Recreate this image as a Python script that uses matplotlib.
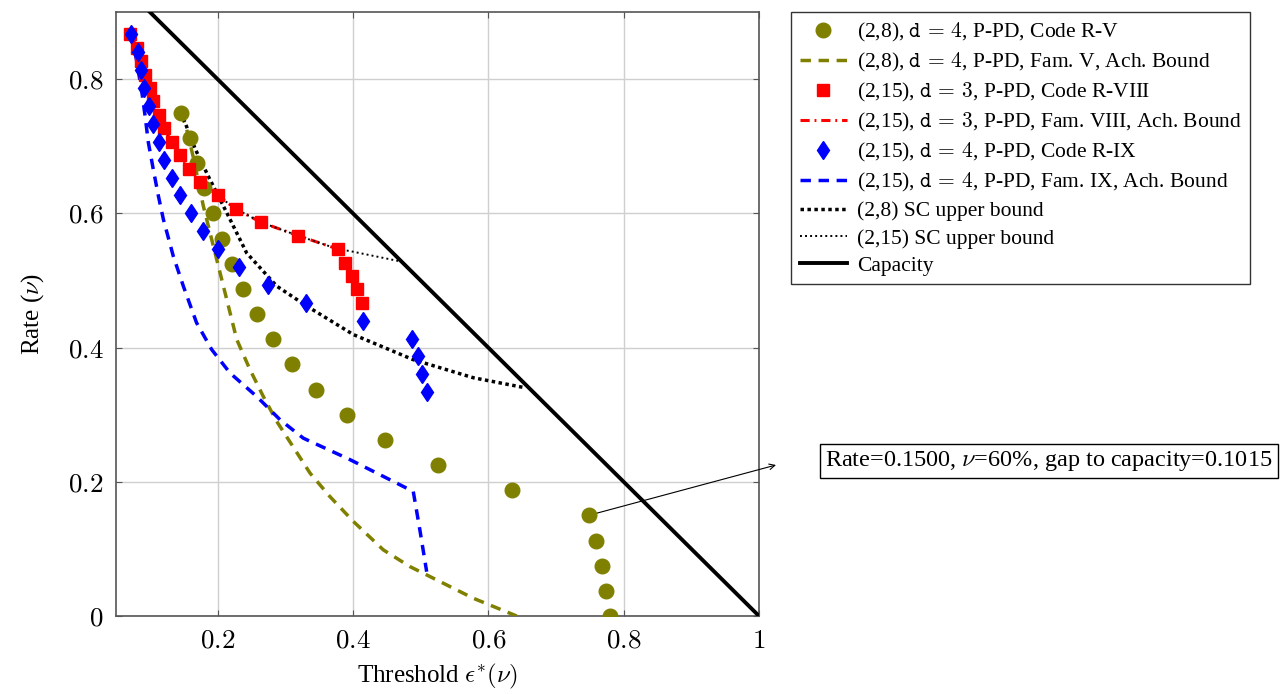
import matplotlib
matplotlib.use('Agg')
import matplotlib.pyplot as plt
from matplotlib.ticker import FixedLocator, FuncFormatter

plt.rcParams['font.family'] = ['Liberation Serif', 'DejaVu Serif']
plt.rcParams['mathtext.fontset'] = 'cm'

# Code R-V, (2,8), d=4
rv_thr = [0.146, 0.160, 0.170, 0.1805, 0.193, 0.206, 0.221, 0.238, 0.258, 0.2815, 0.3105,
          0.346, 0.391, 0.448, 0.525, 0.635, 0.7485, 0.7595, 0.768, 0.774, 0.780]
rv_rate = [0.75, 0.7125, 0.675, 0.6375, 0.6, 0.5625, 0.525, 0.4875, 0.45, 0.4125, 0.375,
           0.3375, 0.3, 0.2625, 0.225, 0.1875, 0.15, 0.1125, 0.075, 0.0375, 0.0]

# Fam. V achievable bound
famv_thr = [0.146, 0.1545, 0.165, 0.179, 0.1914, 0.2037, 0.216, 0.2284, 0.248, 0.2677, 0.2875,
            0.3366, 0.366, 0.4006, 0.445, 0.4843, 0.514, 0.578, 0.642]
famv_rate = [0.75, 0.725, 0.68, 0.611, 0.561, 0.5115, 0.462, 0.412, 0.367, 0.327, 0.29,
             0.213, 0.178, 0.141, 0.0985, 0.0736, 0.0587, 0.0264, 0.0]

# Code R-VIII, (2,15), d=3
rviii_thr = [0.071, 0.0815, 0.0875, 0.0934, 0.0999, 0.105, 0.1136, 0.121, 0.132, 0.1446, 0.158,
             0.174, 0.2, 0.227, 0.264, 0.319, 0.378, 0.389, 0.399, 0.406, 0.4135]
rviii_rate = [0.8667, 0.8467, 0.8267, 0.8067, 0.7867, 0.7667, 0.7467, 0.7267, 0.7067, 0.6867, 0.6667,
              0.6467, 0.6267, 0.6067, 0.5867, 0.5667, 0.5467, 0.5267, 0.5067, 0.4867, 0.4667]

# Fam. VIII achievable bound
famviii_thr = [0.071, 0.0815, 0.0875, 0.0934, 0.0999, 0.105, 0.1136, 0.121, 0.132, 0.1446, 0.158,
               0.174, 0.2, 0.227, 0.264, 0.319, 0.378]
famviii_rate = [0.8667, 0.8467, 0.8267, 0.8067, 0.7867, 0.7667, 0.7467, 0.7267, 0.7067, 0.6867, 0.6667,
                0.6467, 0.6267, 0.6067, 0.5867, 0.5667, 0.5467]

# Code R-IX, (2,15), d=4
rix_thr = [0.072, 0.0826, 0.0875, 0.092, 0.0988, 0.105, 0.1136, 0.1214, 0.133, 0.1446, 0.161,
           0.1786, 0.2007, 0.232, 0.275, 0.330, 0.4154, 0.4877, 0.496, 0.5025, 0.509]
rix_rate = [0.8667, 0.84, 0.8133, 0.7867, 0.76, 0.7333, 0.7067, 0.68, 0.6533, 0.6267, 0.6,
            0.5733, 0.5467, 0.52, 0.4933, 0.4667, 0.44, 0.4133, 0.3867, 0.36, 0.3333]

# Fam. IX achievable bound
famix_thr = [0.072, 0.080, 0.088, 0.093, 0.0978, 0.105, 0.1126, 0.12, 0.1347, 0.1495, 0.169,
             0.1914, 0.2185, 0.258, 0.2923, 0.3267, 0.3957, 0.4548, 0.4892, 0.499, 0.509]
famix_rate = [0.867, 0.83, 0.782, 0.745, 0.7055, 0.666, 0.626, 0.591, 0.536, 0.4915, 0.437,
              0.397, 0.362, 0.327, 0.2925, 0.265, 0.233, 0.203, 0.1855, 0.128, 0.066]

# SC upper bounds
sc8_thr = [0.146, 0.167, 0.186, 0.2136, 0.243, 0.2875, 0.332, 0.4006, 0.489, 0.578, 0.655]
sc8_rate = [0.751, 0.696, 0.656, 0.601, 0.541, 0.4915, 0.4617, 0.4194, 0.382, 0.355, 0.340]

sc15_thr = [0.071, 0.0815, 0.0875, 0.0934, 0.0999, 0.105, 0.1136, 0.121, 0.132, 0.1446, 0.158,
            0.174, 0.2, 0.227, 0.264, 0.319, 0.378, 0.396, 0.472]
sc15_rate = [0.8667, 0.8467, 0.8267, 0.8067, 0.7867, 0.7667, 0.7467, 0.7267, 0.7067, 0.6867, 0.6667,
             0.6467, 0.6267, 0.6067, 0.5867, 0.5667, 0.5467, 0.5437, 0.528]

# Capacity
cap_thr = [0.1, 1.0]
cap_rate = [0.9, 0.0]

OLIVE = '#808000'

fig = plt.figure(figsize=(12.84, 6.94), dpi=100)
ax = fig.add_axes([116/1284, 1 - 616/694, (759 - 116)/1284, (616 - 12)/694])

ax.plot(rv_thr, rv_rate, 'o', color=OLIVE, ms=10.5, ls='none',
        label=r'(2,8), $\mathtt{d}\,=\,4$, P-PD, Code R-V', zorder=4)
ax.plot(famv_thr, famv_rate, color=OLIVE, lw=2.5, dashes=(3, 2.2),
        label=r'(2,8), $\mathtt{d}\,=\,4$, P-PD, Fam. V, Ach. Bound', zorder=3)
ax.plot(rviii_thr, rviii_rate, 's', color='red', ms=8, ls='none',
        label=r'(2,15), $\mathtt{d}\,=\,3$, P-PD, Code R-VIII', zorder=4)
ax.plot(famviii_thr, famviii_rate, color='red', lw=2.2, dashes=(3, 1.6, 0.6, 1.6),
        label=r'(2,15), $\mathtt{d}\,=\,3$, P-PD, Fam. VIII, Ach. Bound', zorder=3)
ax.plot(rix_thr, rix_rate, 'd', color='blue', ms=9.5, ls='none',
        label=r'(2,15), $\mathtt{d}\,=\,4$, P-PD, Code R-IX', zorder=4)
ax.plot(famix_thr, famix_rate, color='blue', lw=2.5, dashes=(3, 2.2),
        label=r'(2,15), $\mathtt{d}\,=\,4$, P-PD, Fam. IX, Ach. Bound', zorder=3)
ax.plot(sc8_thr, sc8_rate, color='black', lw=2.5, dashes=(1, 1),
        label='(2,8) SC upper bound', zorder=3)
ax.plot(sc15_thr, sc15_rate, color='black', lw=1.4, dashes=(1, 1.6),
        label='(2,15) SC upper bound', zorder=3)
ax.plot(cap_thr, cap_rate, color='black', lw=2.8, label='Capacity', zorder=3)

ax.set_xlim(0.05, 1.0)
ax.set_ylim(0, 0.9)
ax.xaxis.set_major_locator(FixedLocator([0.2, 0.4, 0.6, 0.8, 1.0]))
ax.yaxis.set_major_locator(FixedLocator([0, 0.2, 0.4, 0.6, 0.8]))
fmt = FuncFormatter(lambda v, p: r'$%g$' % round(v, 2))
ax.xaxis.set_major_formatter(fmt)
ax.yaxis.set_major_formatter(fmt)
ax.tick_params(direction='in', length=4, width=0.8, color='#555555', labelsize=19.5,
               top=True, right=True, pad=9)
ax.grid(True, color='#cfcfcf', lw=1)
ax.set_axisbelow(True)
for s in ax.spines.values():
    s.set_color('#555555')
    s.set_linewidth(1.2)

ax.set_xlabel(r'Threshold $\epsilon^{*}(\nu)$', fontsize=18, labelpad=6)
ax.set_ylabel(r'Rate ($\nu$)', fontsize=18, labelpad=16)

leg = fig.legend(loc='upper left', bbox_to_anchor=(791/1284, 1 - 12/694), borderaxespad=0,
                 fontsize=15.5, frameon=True, fancybox=False, edgecolor='black',
                 handlelength=2.2, handletextpad=0.45, labelspacing=0.33,
                 borderpad=0.4, numpoints=1)
leg.get_frame().set_linewidth(1.0)

# annotation arrow and box
ax.annotate('', xy=(776/1284, 1 - 465/694), xycoords='figure fraction',
            xytext=(rv_thr[16], rv_rate[16]), textcoords='data',
            arrowprops=dict(arrowstyle='->', color='black', lw=0.8, shrinkA=0, shrinkB=0))
fig.text(1049/1284, 1 - 461/694, r'Rate=0.1500, $\nu$=60%, gap to capacity=0.1015',
         fontsize=17.5, ha='center', va='center',
         bbox=dict(boxstyle='square,pad=0.22', facecolor='white', edgecolor='black', lw=1))

fig.savefig('out.png', dpi=100)
